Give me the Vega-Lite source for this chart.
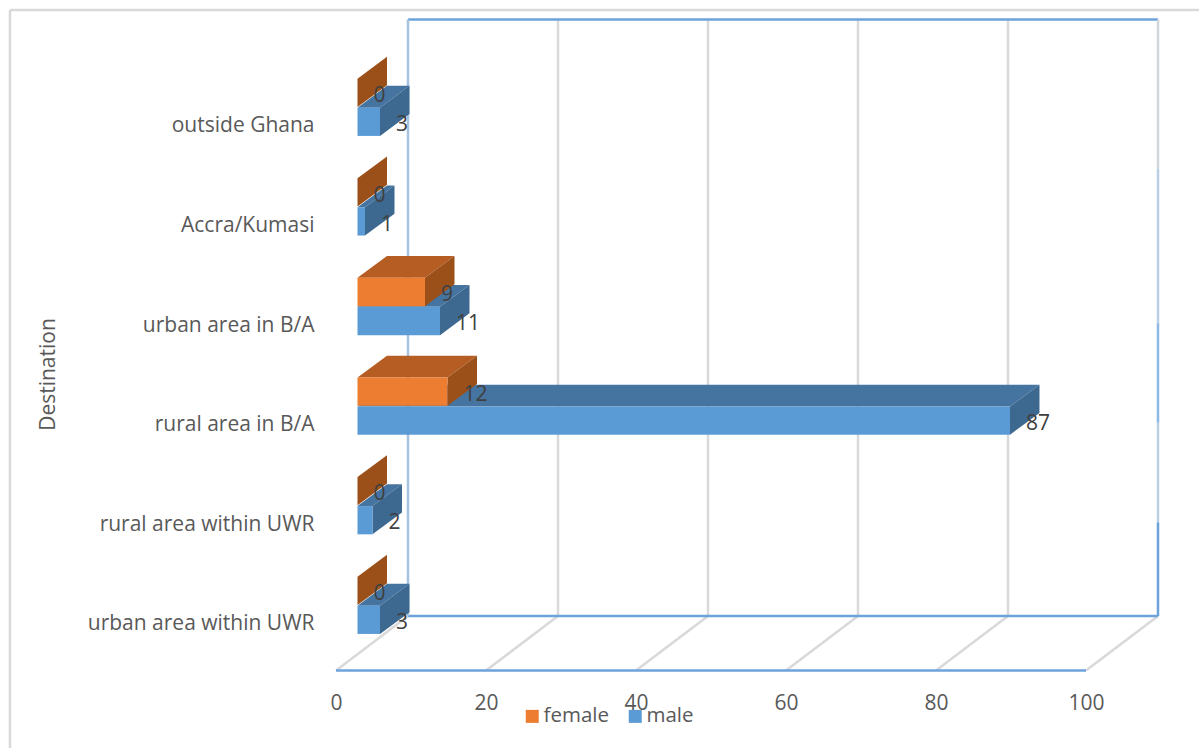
{
"$schema":"https://vega.github.io/schema/vega-lite/v6.json",
"width":822,"height":653,
"autosize":{"type":"none"},
"padding":{"left":336,"top":18,"right":41,"bottom":77},
"background":"white",
"config":{"view":{"stroke":null},"font":"Open Sans"},
"resolve":{"axis":{"x":"independent","y":"independent"}},
"datasets":{
"bars":[
{"destination":"urban area within UWR","sex":"male","value":3},
{"destination":"rural area within UWR","sex":"male","value":2},
{"destination":"rural area in B/A","sex":"male","value":87},
{"destination":"urban area in B/A","sex":"male","value":11},
{"destination":"Accra/Kumasi","sex":"male","value":1},
{"destination":"outside Ghana","sex":"male","value":3},
{"destination":"urban area within UWR","sex":"female","value":0},
{"destination":"rural area within UWR","sex":"female","value":0},
{"destination":"rural area in B/A","sex":"female","value":12},
{"destination":"urban area in B/A","sex":"female","value":9},
{"destination":"Accra/Kumasi","sex":"female","value":0},
{"destination":"outside Ghana","sex":"female","value":0}
],
"ticks":[{"tick":0},{"tick":20},{"tick":40},{"tick":60},{"tick":80},{"tick":100}]
},
"layer":[
{"data":{"values":[{}]},"mark":{"type":"rule","color":"#d9d9d9","strokeWidth":2.5},
 "encoding":{"x":{"datum":-43.47,"type":"quantitative","scale":{"domain":[0,109.6],"nice":false,"zero":false},"axis":null},"x2":{"datum":115.07},
 "y":{"datum":6.145,"type":"quantitative","scale":{"domain":[-0.492,6.064],"nice":false,"zero":false},"axis":null}}},
{"data":{"values":[{}]},"mark":{"type":"rule","color":"#d9d9d9","strokeWidth":2.5},
 "encoding":{"x":{"datum":-43.47,"type":"quantitative","scale":{"domain":[0,109.6],"nice":false,"zero":false},"axis":null},
 "y":{"datum":6.145,"type":"quantitative","scale":{"domain":[-0.492,6.064],"nice":false,"zero":false},"axis":null},"y2":{"datum":-1.265}}},
{"data":{"name":"ticks"},"transform":[{"calculate":"datum.tick+9.6","as":"back"}],
 "resolve":{"axis":{"x":"independent","y":"independent"}},
 "layer":[
 {"mark":{"type":"rule","color":"#d9d9d9","strokeWidth":2.5},
  "encoding":{"x":{"field":"tick","type":"quantitative","scale":{"domain":[0,109.6],"nice":false,"zero":false},
    "axis":{"values":[0,20,40,60,80,100],"domain":false,"ticks":false,"grid":false,"title":null,"labelPadding":21,"labelFontSize":21,"labelColor":"#595959","labelFont":"Open Sans","labelFlush":false,"labelOverlap":false}},
   "x2":{"field":"back"},
   "y":{"datum":-0.487,"type":"quantitative","scale":{"domain":[-0.492,6.064],"nice":false,"zero":false},
    "axis":{"values":[0,1,2,3,4,5],"domain":false,"ticks":false,"grid":false,"labelPadding":22,"labelFontSize":21,"labelColor":"#595959","labelFont":"Open Sans","labelLimit":300,"labelOffset":2,
     "labelExpr":"['urban area within UWR','rural area within UWR','rural area in B/A','urban area in B/A','Accra/Kumasi','outside Ghana'][datum.value]",
     "title":"Destination","titleFont":"Open Sans","titleFontSize":21,"titleFontWeight":"normal","titleColor":"#595959","titleX":-288,"titleY":356,"titleAngle":270,"titleAlign":"center","titleBaseline":"middle"}},
   "y2":{"datum":0.06}}},
 {"transform":[{"filter":"datum.tick>0 && datum.tick<100"}],"mark":{"type":"rule","color":"#d9d9d9","strokeWidth":2.5},
  "encoding":{"x":{"field":"back","type":"quantitative","scale":{"domain":[0,109.6],"nice":false,"zero":false},"axis":null},
   "y":{"datum":0.06,"type":"quantitative","scale":{"domain":[-0.492,6.064],"nice":false,"zero":false},"axis":null},"y2":{"datum":6.049}}}
 ]},
{"data":{"values":[{}]},"mark":{"type":"rule","color":"#6ba3da","strokeWidth":2.5},
 "encoding":{"x":{"datum":9.6,"type":"quantitative","scale":{"domain":[0,109.6],"nice":false,"zero":false},"axis":null},"x2":{"datum":109.6},
 "y":{"datum":0.06,"type":"quantitative","scale":{"domain":[-0.492,6.064],"nice":false,"zero":false},"axis":null}}},
{"data":{"values":[{}]},"mark":{"type":"rule","color":"#6ba3da","strokeWidth":2.5},
 "encoding":{"x":{"datum":9.6,"type":"quantitative","scale":{"domain":[0,109.6],"nice":false,"zero":false},"axis":null},"x2":{"datum":109.6},
 "y":{"datum":6.049,"type":"quantitative","scale":{"domain":[-0.492,6.064],"nice":false,"zero":false},"axis":null}}},
{"data":{"values":[{}]},"mark":{"type":"rule","color":"#6ba3da","strokeWidth":2.5},
 "encoding":{"x":{"datum":0,"type":"quantitative","scale":{"domain":[0,109.6],"nice":false,"zero":false},"axis":null},"x2":{"datum":100},
 "y":{"datum":-0.487,"type":"quantitative","scale":{"domain":[-0.492,6.064],"nice":false,"zero":false},"axis":null}}},
{"data":{"values":[{}]},"mark":{"type":"rule","color":"#a5c3e0","strokeWidth":2.5},
 "encoding":{"x":{"datum":9.6,"type":"quantitative","scale":{"domain":[0,109.6],"nice":false,"zero":false},"axis":null},
 "y":{"datum":0.06,"type":"quantitative","scale":{"domain":[-0.492,6.064],"nice":false,"zero":false},"axis":null},"y2":{"datum":6.049}}},
{"data":{"values":[{}]},"mark":{"type":"rule","color":"#d0d5db","strokeWidth":2.5},
 "encoding":{"x":{"datum":109.6,"type":"quantitative","scale":{"domain":[0,109.6],"nice":false,"zero":false},"axis":null},
 "y":{"datum":4.55,"type":"quantitative","scale":{"domain":[-0.492,6.064],"nice":false,"zero":false},"axis":null},"y2":{"datum":6.049}}},
{"data":{"values":[{}]},"mark":{"type":"rule","color":"#b8cfe6","strokeWidth":2.5},
 "encoding":{"x":{"datum":109.6,"type":"quantitative","scale":{"domain":[0,109.6],"nice":false,"zero":false},"axis":null},
 "y":{"datum":3,"type":"quantitative","scale":{"domain":[-0.492,6.064],"nice":false,"zero":false},"axis":null},"y2":{"datum":4.55}}},
{"data":{"values":[{}]},"mark":{"type":"rule","color":"#8db8e3","strokeWidth":2.5},
 "encoding":{"x":{"datum":109.6,"type":"quantitative","scale":{"domain":[0,109.6],"nice":false,"zero":false},"axis":null},
 "y":{"datum":2,"type":"quantitative","scale":{"domain":[-0.492,6.064],"nice":false,"zero":false},"axis":null},"y2":{"datum":3}}},
{"data":{"values":[{}]},"mark":{"type":"rule","color":"#bcd0e4","strokeWidth":2.5},
 "encoding":{"x":{"datum":109.6,"type":"quantitative","scale":{"domain":[0,109.6],"nice":false,"zero":false},"axis":null},
 "y":{"datum":1,"type":"quantitative","scale":{"domain":[-0.492,6.064],"nice":false,"zero":false},"axis":null},"y2":{"datum":2}}},
{"data":{"values":[{}]},"mark":{"type":"rule","color":"#6ba3da","strokeWidth":2.5},
 "encoding":{"x":{"datum":109.6,"type":"quantitative","scale":{"domain":[0,109.6],"nice":false,"zero":false},"axis":null},
 "y":{"datum":0.06,"type":"quantitative","scale":{"domain":[-0.492,6.064],"nice":false,"zero":false},"axis":null},"y2":{"datum":1}}},
{"data":{"name":"bars"},
 "transform":[
  {"calculate":"indexof(['urban area within UWR','rural area within UWR','rural area in B/A','urban area in B/A','Accra/Kumasi','outside Ghana'],datum.destination)+(datum.sex=='female'?0.291:0)","as":"slot"},
  {"calculate":"datum.slot+0.164","as":"upper"},
  {"calculate":"datum.slot-0.12","as":"lower"},
  {"calculate":"[0,1]","as":"corner"},
  {"flatten":["corner"]},
  {"calculate":"datum.corner*3.93","as":"left"},
  {"calculate":"datum.value+datum.corner*3.93","as":"right"},
  {"calculate":"datum.upper+datum.corner*0.219","as":"upperBack"},
  {"calculate":"datum.lower+datum.corner*0.219","as":"lowerBack"}
 ],
 "layer":[
 {"transform":[{"filter":"datum.sex=='male'"}],"mark":{"type":"area","orient":"horizontal","color":"#4674a0","xOffset":21.5,"x2Offset":21.5},
  "encoding":{"x":{"field":"left","type":"quantitative","scale":{"domain":[0,109.6],"nice":false,"zero":false},"axis":null},"x2":{"field":"right"},
   "y":{"field":"upperBack","type":"quantitative","scale":{"domain":[-0.492,6.064],"nice":false,"zero":false},"axis":null},"detail":{"field":"destination"}}},
 {"transform":[{"filter":"datum.sex=='male'"}],"mark":{"type":"area","orient":"vertical","color":"#3d6990","xOffset":21.5,"x2Offset":21.5},
  "encoding":{"x":{"field":"right","type":"quantitative","scale":{"domain":[0,109.6],"nice":false,"zero":false},"axis":null},
   "y":{"field":"upperBack","type":"quantitative","scale":{"domain":[-0.492,6.064],"nice":false,"zero":false},"axis":null},"y2":{"field":"lowerBack"},"detail":{"field":"destination"}}},
 {"transform":[{"filter":"datum.sex=='female'"}],"mark":{"type":"area","orient":"horizontal","color":"#b55d22","xOffset":21.5,"x2Offset":21.5},
  "encoding":{"x":{"field":"left","type":"quantitative","scale":{"domain":[0,109.6],"nice":false,"zero":false},"axis":null},"x2":{"field":"right"},
   "y":{"field":"upperBack","type":"quantitative","scale":{"domain":[-0.492,6.064],"nice":false,"zero":false},"axis":null},"detail":{"field":"destination"}}},
 {"transform":[{"filter":"datum.sex=='female'"}],"mark":{"type":"area","orient":"vertical","color":"#9c5019","xOffset":21.5,"x2Offset":21.5},
  "encoding":{"x":{"field":"right","type":"quantitative","scale":{"domain":[0,109.6],"nice":false,"zero":false},"axis":null},
   "y":{"field":"upperBack","type":"quantitative","scale":{"domain":[-0.492,6.064],"nice":false,"zero":false},"axis":null},"y2":{"field":"lowerBack"},"detail":{"field":"destination"}}},
 {"transform":[{"filter":"datum.corner==0"}],"mark":{"type":"bar","xOffset":21.5,"x2Offset":21.5},
  "encoding":{"x":{"field":"value","type":"quantitative","scale":{"domain":[0,109.6],"nice":false,"zero":false},"axis":null},"x2":{"datum":0},
   "y":{"field":"upper","type":"quantitative","scale":{"domain":[-0.492,6.064],"nice":false,"zero":false},"axis":null},"y2":{"field":"lower"},
   "color":{"field":"sex","type":"nominal","scale":{"domain":["female","male"],"range":["#ed7d31","#5b9bd5"]},
    "legend":{"orient":"none","legendX":186,"legendY":688,"direction":"horizontal","title":null,"symbolType":"square","symbolSize":169,"symbolStrokeWidth":0,"symbolOpacity":1,"labelFont":"Open Sans","labelFontSize":20.5,"labelColor":"#595959","columns":2,"columnPadding":16,"labelOffset":1}}}},
 {"transform":[{"filter":"datum.corner==0"}],"mark":{"type":"text","align":"left","baseline":"middle","dx":37.5,"dy":1,"fontSize":21,"font":"Open Sans","color":"#404040"},
  "encoding":{"x":{"field":"value","type":"quantitative","scale":{"domain":[0,109.6],"nice":false,"zero":false},"axis":null},
   "y":{"field":"slot","type":"quantitative","scale":{"domain":[-0.492,6.064],"nice":false,"zero":false},"axis":null},
   "text":{"field":"value","type":"quantitative"}}}
 ],
 "resolve":{"axis":{"x":"independent","y":"independent"}}}
]
}
